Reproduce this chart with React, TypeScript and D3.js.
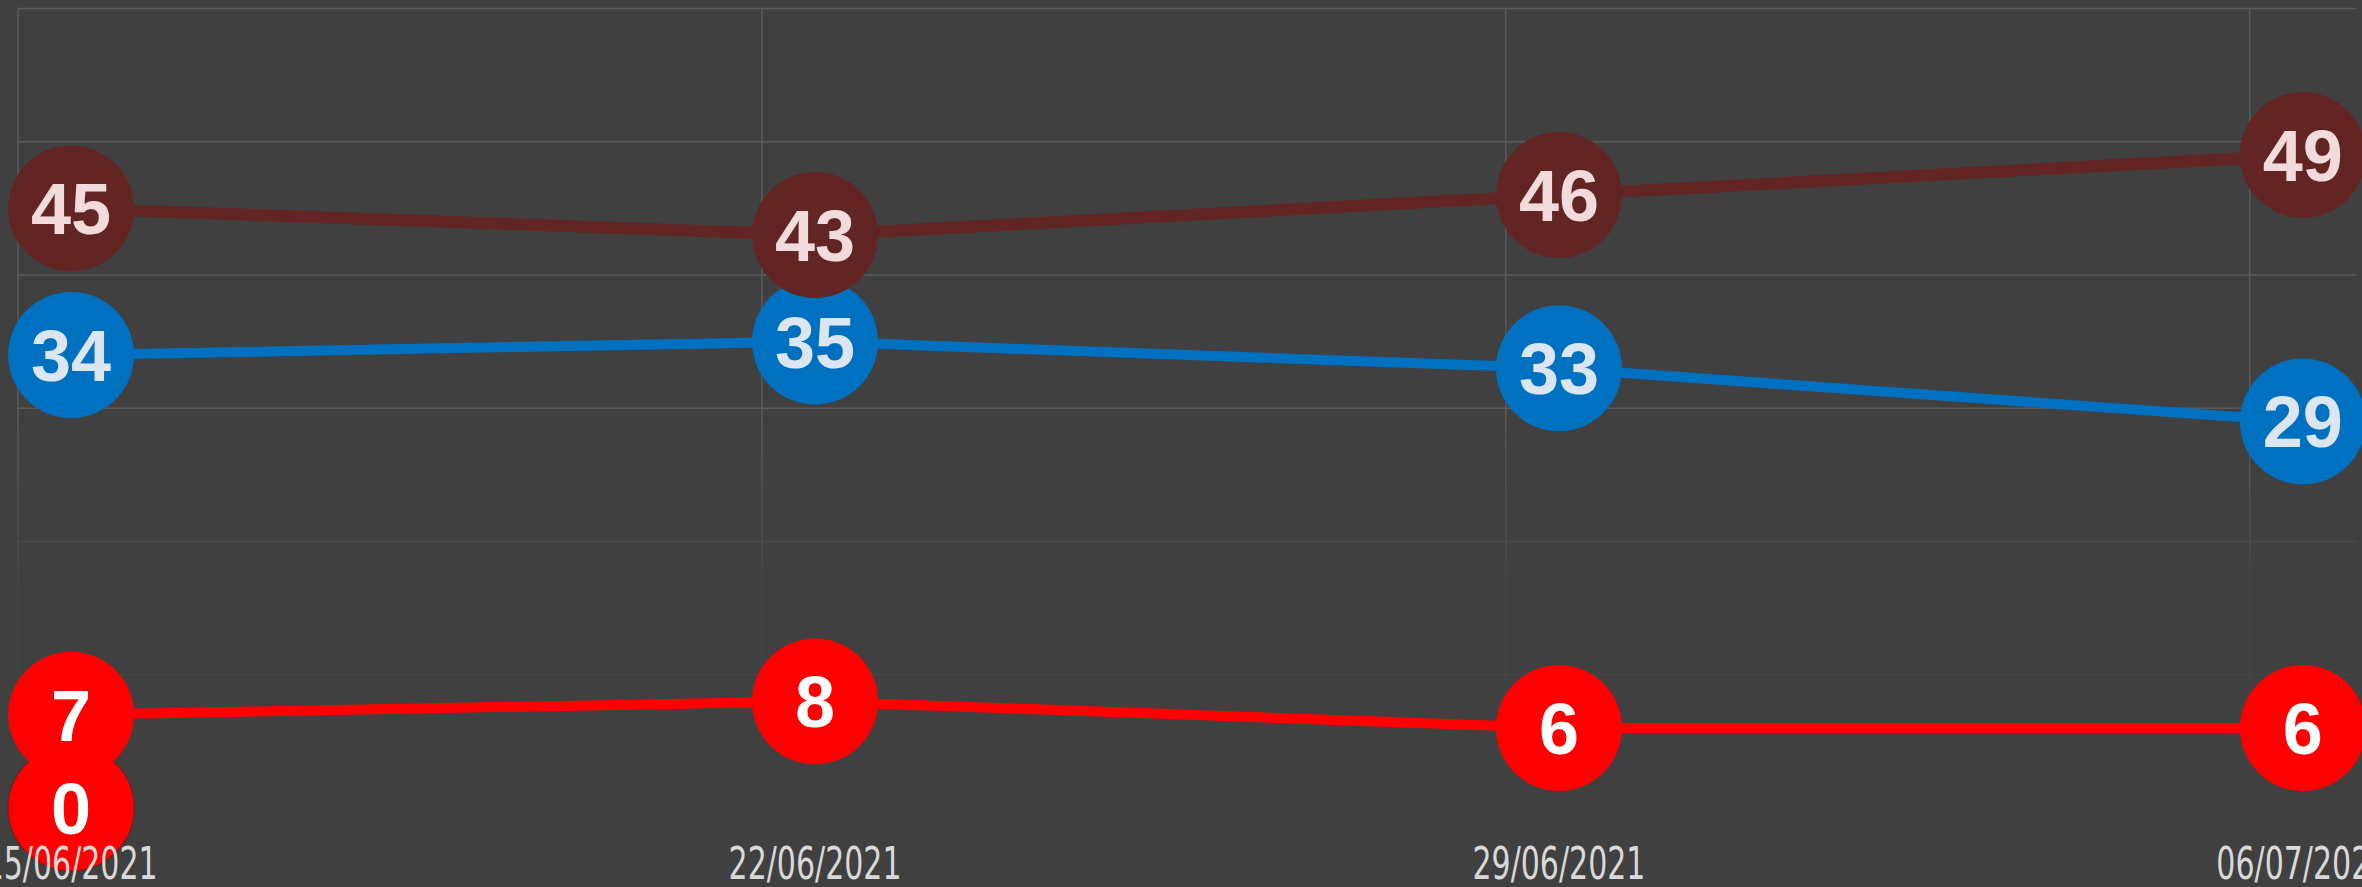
import React from "react";
import * as d3 from "d3";

const dates = ["2021-06-15", "2021-06-22", "2021-06-29", "2021-07-06"];
const xLabels = ["15/06/2021", "22/06/2021", "29/06/2021", "06/07/2021"];
const brownValues = [45, 43, 46, 49];
const blueValues = [34, 35, 33, 29];
const redValues = [7, 8, 6, 6];
const zeroValues = [0];
const yTicks = [0, 10, 20, 30, 40, 50, 60];

const W = 2362;
const H = 887;

const parse = d3.timeParse("%Y-%m-%d");
const dayStarts = dates.map((d) => parse(d) as Date);
const pointDates = dayStarts.map((d) => d3.timeHour.offset(d, 12));

const x = d3
  .scaleTime()
  .domain([parse("2021-06-15") as Date, parse("2021-07-07") as Date])
  .range([18, 2356]);
const y = d3.scaleLinear().domain([0, 60]).range([808, 8.5]);

type Series = {
  values: number[];
  color: string;
  text: string;
  width: number;
  stroke?: string;
};

const series: Series[] = [
  { values: zeroValues, color: "#ff0000", text: "#ffffff", width: 10, stroke: "rgba(110,20,20,0.45)" },
  { values: redValues, color: "#ff0000", text: "#ffffff", width: 10 },
  { values: blueValues, color: "#0070c0", text: "#dce6f2", width: 10 },
  { values: brownValues, color: "#632523", text: "#f2dcdb", width: 12 },
];

const R = 63;

export default function App() {
  const line = d3
    .line<number>()
    .x((_, i) => x(pointDates[i]))
    .y((v) => y(v));

  return (
    <svg
      width={W}
      height={H}
      style={{ position: "fixed", left: 0, top: 0, display: "block" }}
    >
      <defs>
        <linearGradient id="fade" x1="0" y1="0" x2="0" y2="1">
          <stop offset="0" stopColor="#404040" stopOpacity={0} />
          <stop offset="0.4" stopColor="#404040" stopOpacity={0.75} />
          <stop offset="1" stopColor="#404040" stopOpacity={0.95} />
        </linearGradient>
      </defs>
      <rect x={0} y={0} width={W} height={H} fill="#404040" />
      {yTicks.map((t) => (
        <line
          key={"h" + t}
          x1={x.range()[0]}
          x2={x.range()[1]}
          y1={y(t)}
          y2={y(t)}
          stroke="#5a5a5a"
          strokeWidth={1.5}
        />
      ))}
      {dayStarts.map((d, i) => (
        <line
          key={"v" + i}
          x1={x(d)}
          x2={x(d)}
          y1={y(60)}
          y2={y(0)}
          stroke="#5a5a5a"
          strokeWidth={1.5}
        />
      ))}
      <rect
        x={0}
        y={y(30)}
        width={W}
        height={y(0) - y(30) + 2}
        fill="url(#fade)"
      />
      {series.map((s, si) => (
        <path
          key={"l" + si}
          d={line(s.values) || ""}
          fill="none"
          stroke={s.color}
          strokeWidth={s.width}
        />
      ))}
      {series.map((s, si) =>
        s.values.map((v, i) => (
          <g key={"c" + si + "-" + i}>
            <circle
              cx={x(pointDates[i])}
              cy={y(v)}
              r={R}
              fill={s.color}
              stroke={s.stroke || "none"}
              strokeWidth={s.stroke ? 1.5 : 0}
            />
            <text
              x={x(pointDates[i])}
              y={y(v)}
              dy="0.36em"
              textAnchor="middle"
              fill={s.text}
              fontFamily="'Liberation Sans', Arial, sans-serif"
              fontWeight="bold"
              fontSize={72}
            >
              {v}
            </text>
          </g>
        ))
      )}
      {xLabels.map((lab, i) => (
        <text
          key={"x" + i}
          x={x(pointDates[i])}
          y={879}
          textAnchor="middle"
          fill="#d9d9d9"
          fontFamily="'DejaVu Sans Condensed', 'DejaVu Sans', sans-serif"
          fontStretch="condensed"
          fontWeight="normal"
          fontSize={44}
          textLength={173}
          lengthAdjust="spacingAndGlyphs"
        >
          {lab}
        </text>
      ))}
    </svg>
  );
}
